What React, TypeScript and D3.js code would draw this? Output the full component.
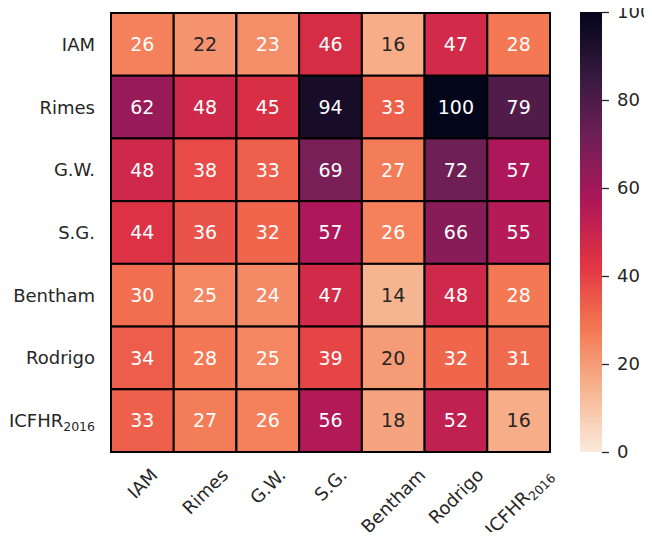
import React, { useEffect, useRef } from 'react';
import * as d3 from 'd3';

// row / column labels ("_" marks a subscript)
const rowLabels = ['IAM', 'Rimes', 'G.W.', 'S.G.', 'Bentham', 'Rodrigo', 'ICFHR_2016'];
const colLabels = ['IAM', 'Rimes', 'G.W.', 'S.G.', 'Bentham', 'Rodrigo', 'ICFHR_2016'];

const rowIAM = [26, 22, 23, 46, 16, 47, 28];
const rowRimes = [62, 48, 45, 94, 33, 100, 79];
const rowGW = [48, 38, 33, 69, 27, 72, 57];
const rowSG = [44, 36, 32, 57, 26, 66, 55];
const rowBentham = [30, 25, 24, 47, 14, 48, 28];
const rowRodrigo = [34, 28, 25, 39, 20, 32, 31];
const rowICFHR = [33, 27, 26, 56, 18, 52, 16];
const values = [rowIAM, rowRimes, rowGW, rowSG, rowBentham, rowRodrigo, rowICFHR];

const cbarTicks = [0, 20, 40, 60, 80, 100];

// rocket colormap anchors (seaborn), used reversed
const rocketPos = [0, 1 / 7, 2 / 7, 3 / 7, 4 / 7, 5 / 7, 6 / 7, 1];
const rocketHex = ['#03051a', '#35193e', '#701f57', '#ad1759', '#e13342', '#f37651', '#f6b48f', '#faebdd'];

const W = 652;
const H = 540;
const FONT = 'DejaVu Sans, sans-serif';
const TEXT = '#262626';

const rocket = d3.scaleLinear<string>().domain(rocketPos).range(rocketHex).interpolate(d3.interpolateRgb);
const colorOf = (v: number) => rocket(1 - v / 100);

function luminance(c: string) {
  const rgb = d3.rgb(c);
  const lin = (x: number) => {
    const s = x / 255;
    return s <= 0.03928 ? s / 12.92 : Math.pow((s + 0.055) / 1.055, 2.4);
  };
  return 0.2126 * lin(rgb.r) + 0.7152 * lin(rgb.g) + 0.0722 * lin(rgb.b);
}

function addLabel(sel: any, label: string) {
  const [main, sub] = label.split('_');
  sel.append('tspan').text(main);
  if (sub) sel.append('tspan').attr('font-size', 12.5).attr('dy', '0.3em').text(sub);
}

const App = () => {
  const ref = useRef<SVGSVGElement>(null);

  useEffect(() => {
    const svg = d3.select(ref.current);
    svg.selectAll('*').remove();

    const left = 111, right = 550, top = 13, bottom = 452;
    const x = d3.scaleBand<number>().domain(d3.range(colLabels.length)).range([left, right]);
    const y = d3.scaleBand<number>().domain(d3.range(rowLabels.length)).range([top, bottom]);

    const cells = values.flatMap((row, r) => row.map((v, c) => ({ r, c, v })));

    const g = svg.append('g');
    g.selectAll('rect.cell')
      .data(cells)
      .join('rect')
      .attr('class', 'cell')
      .attr('x', d => x(d.c)!)
      .attr('y', d => y(d.r)!)
      .attr('width', x.bandwidth())
      .attr('height', y.bandwidth())
      .attr('fill', d => colorOf(d.v))
      .attr('stroke', '#000')
      .attr('stroke-width', 2);

    g.selectAll('text.annot')
      .data(cells)
      .join('text')
      .attr('class', 'annot')
      .attr('x', d => x(d.c)! + x.bandwidth() / 2)
      .attr('y', d => y(d.r)! + y.bandwidth() / 2)
      .attr('dy', '0.36em')
      .attr('text-anchor', 'middle')
      .attr('font-family', FONT)
      .attr('font-size', 19)
      .attr('fill', d => (luminance(colorOf(d.v)) > 0.408 ? TEXT : '#ffffff'))
      .text(d => d.v);

    // y tick labels
    rowLabels.forEach((lab, i) => {
      const t = svg.append('text')
        .attr('x', 95)
        .attr('y', y(i)! + y.bandwidth() / 2)
        .attr('dy', '0.36em')
        .attr('text-anchor', 'end')
        .attr('font-family', FONT)
        .attr('font-size', 18)
        .attr('fill', TEXT);
      addLabel(t, lab);
    });

    // x tick labels, rotated 45deg, bbox centred under column
    colLabels.forEach((lab, i) => {
      const t = svg.append('text')
        .attr('text-anchor', 'middle')
        .attr('dy', '0.36em')
        .attr('font-family', FONT)
        .attr('font-size', 18)
        .attr('fill', TEXT);
      addLabel(t, lab);
      const w = (t.node() as SVGTextElement).getComputedTextLength();
      const side = (w + 16) * Math.SQRT1_2;
      const cx = x(i)! + x.bandwidth() / 2;
      t.attr('transform', `translate(${cx},${466 + side / 2}) rotate(-45)`);
    });

    // colorbar
    const cbX = 580, cbW = 22;
    const cy = d3.scaleLinear().domain([0, 100]).range([bottom, top - 1]);
    const defs = svg.append('defs');
    const grad = defs.append('linearGradient')
      .attr('id', 'cbar')
      .attr('x1', 0).attr('y1', 1).attr('x2', 0).attr('y2', 0);
    d3.range(0, 101, 2).forEach(v => {
      grad.append('stop').attr('offset', `${v}%`).attr('stop-color', colorOf(v));
    });
    svg.append('rect')
      .attr('x', cbX).attr('y', cy(100))
      .attr('width', cbW).attr('height', cy(0) - cy(100))
      .attr('fill', 'url(#cbar)');

    const axis = d3.axisRight(cy).tickValues(cbarTicks).tickSize(7).tickPadding(8);
    const ag = svg.append('g').attr('transform', `translate(${cbX + cbW},0)`).call(axis);
    ag.select('.domain').remove();
    ag.selectAll('line').attr('stroke', TEXT).attr('stroke-width', 1.3);
    ag.selectAll('text')
      .attr('font-family', FONT)
      .attr('font-size', 18)
      .attr('fill', TEXT);
  }, []);

  return <svg ref={ref} width={W} height={H} style={{ display: 'block', margin: '-8px' }} />;
};

export default App;
